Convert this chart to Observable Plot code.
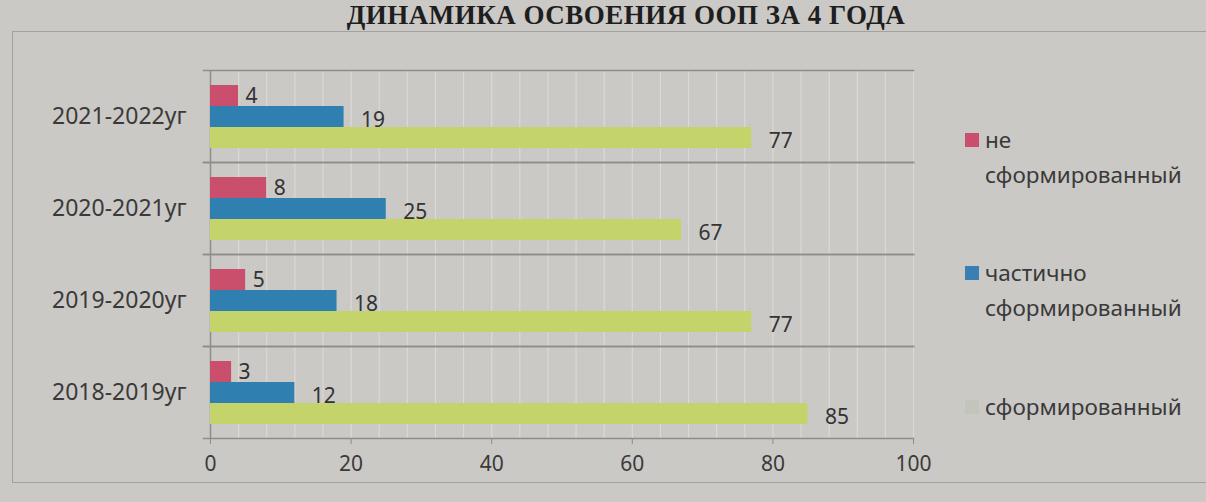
<!DOCTYPE html>
<html>
<head>
<meta charset="utf-8">
<script src="https://cdn.jsdelivr.net/npm/d3@7"></script>
<script src="https://cdn.jsdelivr.net/npm/@observablehq/plot@0.6"></script>
<style>
  html, body { margin: 0; padding: 0; }
  body { width: 1206px; height: 502px; overflow: hidden; background: #cbc9c6; position: relative; font-family: "Noto Sans", sans-serif; }
  #frame { position: absolute; left: 12px; top: 31px; width: 1210px; height: 452px; border: 1.5px solid #a3a19e; box-sizing: border-box; }
  #title { position: absolute; left: 0; width: 1252px; top: 1px; height: 28px; line-height: 28px; text-align: center; font-family: "Liberation Serif", serif; font-weight: bold; font-size: 27px; color: #1e1e1e; white-space: nowrap; letter-spacing: 0.5px; }
  #chart { position: absolute; left: 0; top: 0; }
  #legend { position: absolute; left: 965px; top: 0; width: 240px; }
  .item { position: absolute; left: 0; font-size: 22.5px; line-height: 35px; color: #3a3a3a; }
  .sw { position: absolute; left: 0; width: 14px; height: 14px; }
  .txt { position: absolute; left: 20px; white-space: nowrap; }
</style>
</head>
<body>
<div id="frame"></div>
<div id="title">ДИНАМИКА ОСВОЕНИЯ ООП ЗА 4 ГОДА</div>
<div id="chart"></div>
<div id="legend"></div>
<script>
const years = ["2021-2022уг", "2020-2021уг", "2019-2020уг", "2018-2019уг"];
const series = ["не сформированный", "частично сформированный", "сформированный"];
const legendLines = [["не", "сформированный"], ["частично", "сформированный"], ["сформированный"]];
const notFormed = [4, 8, 5, 3];
const partlyFormed = [19, 25, 18, 12];
const formed = [77, 67, 77, 85];
const xTicks = [0, 20, 40, 60, 80, 100];
const minorStep = 4;
const colors = ["#c94f6d", "#2f7fb1", "#c5d36b"];
const legendSwatch = ["#c94f6d", "#3a7fb3", "#c3c4bc"];

const values = [notFormed, partlyFormed, formed];
const data = years.flatMap((year, i) => series.map((s, j) => ({ year, series: s, value: values[j][i] })));

const chart = Plot.plot({
  width: 1206,
  height: 502,
  marginLeft: 210,
  marginRight: 293,
  marginTop: 68,
  marginBottom: 63,
  style: { background: "transparent", fontFamily: "Noto Sans", color: "#3a3a3a", overflow: "visible" },
  x: { domain: [0, 100], axis: null },
  y: { domain: series, axis: null, paddingInner: 0, paddingOuter: 0.6 },
  fy: { domain: years, padding: 0, axis: null },
  color: { domain: series, range: colors },
  marks: [
    Plot.gridX({ ticks: d3.range(0, 101, minorStep), stroke: "#ecebe8", strokeOpacity: 0.5, strokeWidth: 1.2 }),
    Plot.frame({ anchor: "top", stroke: "#8e8d8a", strokeWidth: 1.5, insetLeft: -7 }),
    Plot.frame({ anchor: "bottom", stroke: "#8e8d8a", strokeWidth: 1.5, insetLeft: -7 }),
    Plot.ruleX([0], { stroke: "#8e8d8a", strokeWidth: 1.5 }),
    Plot.barX(data, { x: "value", y: "series", fy: "year", fill: "series" }),
    Plot.text(data.filter(d => d.series === series[0]), { x: "value", y: "series", fy: "year", text: d => String(d.value), textAnchor: "start", dx: 7, fontSize: 21, fill: "#333" }),
    Plot.text(data.filter(d => d.series !== series[0]), { x: "value", y: "series", fy: "year", text: d => String(d.value), textAnchor: "start", dx: 17, dy: 3, fontSize: 21, fill: "#333" }),
    Plot.axisFy({ anchor: "left", tickSize: 0, tickPadding: 24, fontSize: 23, label: null, fill: "#3a3a3a" }),
    Plot.axisX({ ticks: xTicks, tickSize: 6, tickPadding: 12, fontSize: 21, label: null, stroke: "#8e8d8a", fill: "#3a3a3a" })
  ]
});
document.getElementById("chart").appendChild(chart);

const legend = document.getElementById("legend");
const itemTops = [122, 255, 389];
legendLines.forEach((lines, i) => {
  const item = document.createElement("div");
  item.className = "item";
  item.style.top = itemTops[i] + "px";
  const sw = document.createElement("div");
  sw.className = "sw";
  sw.style.background = legendSwatch[i];
  sw.style.top = "11px";
  item.appendChild(sw);
  const t = document.createElement("div");
  t.className = "txt";
  t.innerHTML = lines.join("<br>");
  item.appendChild(t);
  legend.appendChild(item);
});
</script>
</body>
</html>
